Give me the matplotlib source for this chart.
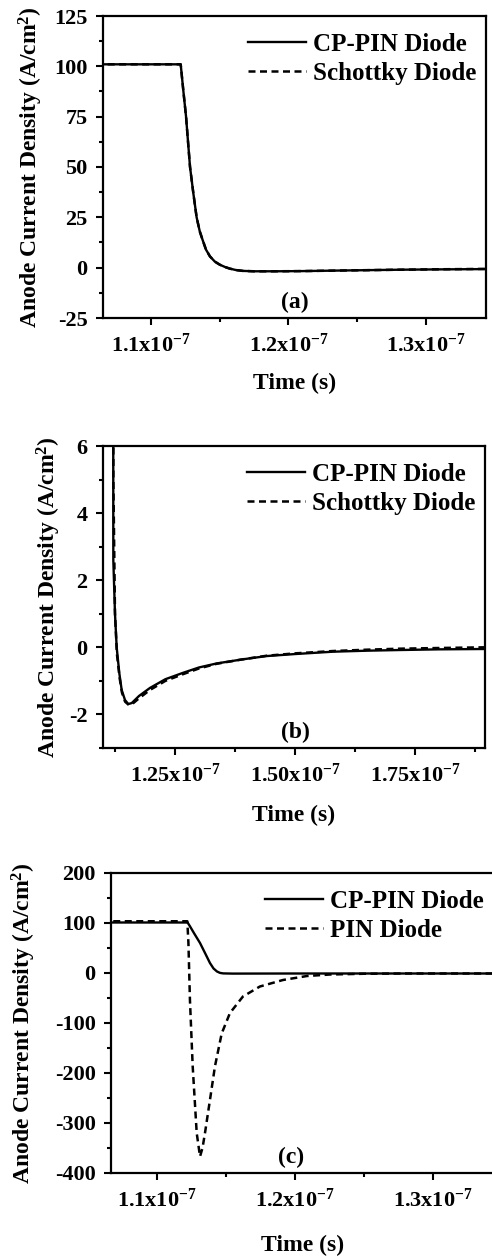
import matplotlib
matplotlib.use("Agg")
import matplotlib.pyplot as plt
import numpy as np

plt.rcParams['font.family'] = ['Liberation Serif', 'DejaVu Serif']
plt.rcParams['font.weight'] = 'bold'
plt.rcParams['axes.labelweight'] = 'bold'
plt.rcParams['mathtext.fontset'] = 'custom'
plt.rcParams['mathtext.rm'] = 'Liberation Serif:bold'
plt.rcParams['mathtext.it'] = 'Liberation Serif:bold:italic'
plt.rcParams['mathtext.bf'] = 'Liberation Serif:bold'
plt.rcParams['axes.unicode_minus'] = False

# ---- data (time in units of 1e-7 s, current in A/cm^2) ----
# (a) CP-PIN vs Schottky, full scale
t_a = [1.060, 1.1216, 1.1235, 1.1255, 1.1270, 1.1284, 1.1308, 1.1332, 1.1355,
       1.1375, 1.1400, 1.1429, 1.1465, 1.1500, 1.1540, 1.1575, 1.1620, 1.1669,
       1.1750, 1.1900, 1.2105, 1.2400, 1.2833, 1.3100, 1.3450]
cp_a = [101, 101, 88, 75, 62, 50, 37, 25, 18, 13.9, 9, 5.6, 3.0, 1.5, 0.3,
        -0.5, -1.2, -1.6, -1.8, -1.8, -1.7, -1.4, -1.0, -0.85, -0.7]
sch_a = [101, 101, 88, 75, 62, 50, 37, 25, 18, 13.9, 9, 5.6, 3.0, 1.5, 0.3,
         -0.5, -1.2, -1.6, -1.8, -1.8, -1.7, -1.4, -1.0, -0.8, -0.6]

# (b) zoom on the reverse recovery
t_b_cp = [1.100, 1.1200, 1.1208, 1.1215, 1.1250, 1.1285, 1.1340, 1.1389, 1.1458,
          1.1527, 1.1600, 1.1750, 1.1979, 1.2300, 1.2667, 1.3000, 1.3369, 1.3900,
          1.4410, 1.5000, 1.5792, 1.6500, 1.7188, 1.8000, 1.8917, 1.9000]
cp_b = [101, 101, 20, 2.6, 1.0, 0.0, -0.77, -1.27, -1.57, -1.69, -1.66, -1.45,
        -1.21, -0.95, -0.76, -0.60, -0.48, -0.36, -0.26, -0.20, -0.13, -0.10,
        -0.08, -0.06, -0.05, -0.05]
t_b_sch = [1.100, 1.1200, 1.1210, 1.1216, 1.1250, 1.1290, 1.1345, 1.1395, 1.1460,
           1.1540, 1.1600, 1.1750, 1.1979, 1.2300, 1.2667, 1.3000, 1.3369, 1.3900,
           1.4410, 1.5000, 1.5792, 1.6500, 1.7188, 1.8000, 1.8917, 1.9000]
sch_b = [101, 101, 20, 5, 1.0, -0.2, -0.9, -1.35, -1.62, -1.72, -1.70, -1.52,
         -1.27, -1.00, -0.80, -0.63, -0.49, -0.36, -0.25, -0.18, -0.11, -0.07,
         -0.04, -0.02, 0.0, 0.0]

# (c) CP-PIN vs conventional PIN
t_c_cp = [1.060, 1.1222, 1.1240, 1.1270, 1.1312, 1.1350, 1.1384, 1.1410, 1.1435,
          1.1457, 1.1480, 1.1550, 1.2000, 1.2500, 1.3000, 1.3450]
cp_c = [101, 101, 93, 79, 60, 39, 20, 9, 3, 0.2, -0.8, -1.2, -1, -1, -1, -1]
t_c_pin = [1.060, 1.1220, 1.1228, 1.1239, 1.1259, 1.1288, 1.1312, 1.1330, 1.1348,
           1.1384, 1.1420, 1.1469, 1.1529, 1.1623, 1.1746, 1.1913, 1.2087, 1.2254,
           1.2500, 1.2800, 1.3100, 1.3450]
pin_c = [103.5, 103.5, 60, -54, -187, -320, -367, -350, -320, -254, -187, -121,
         -80, -47, -27, -14, -6, -3, -1.5, -1, -1, -1]

xt_ac = [1.1e-7, 1.2e-7, 1.3e-7]
xt_ac_labels = ['1.1x10$^{-7}$', '1.2x10$^{-7}$', '1.3x10$^{-7}$']
xt_b = [1.25e-7, 1.50e-7, 1.75e-7]
xt_b_labels = ['1.25x10$^{-7}$', '1.50x10$^{-7}$', '1.75x10$^{-7}$']
yt_a = [-25, 0, 25, 50, 75, 100, 125]
yt_b = [-2, 0, 2, 4, 6]
yt_c = [-400, -300, -200, -100, 0, 100, 200]

ylab = 'Anode Current Density (A/cm$^{2}$)'
dash = (0, (2.8, 1.8))
W, H = 492, 1258

fig = plt.figure(figsize=(W / 100, H / 100), dpi=100)
ax_a = fig.add_axes([103 / W, 1 - 318 / H, 383 / W, 302 / H])
ax_b = fig.add_axes([103 / W, 1 - 748 / H, 382 / W, 302 / H])
ax_c = fig.add_axes([111 / W, 1 - 1173 / H, 382.7 / W, 300 / H])


def style(ax, xmin, xmax, ymin, ymax, xt, xl, yt, xminor, yminor):
    ax.set_xlim(xmin, xmax)
    ax.set_ylim(ymin, ymax)
    ax.set_xticks(xt, xl)
    ax.set_yticks(yt, [str(v) for v in yt])
    ax.set_xticks(xminor, minor=True)
    ax.set_yticks(yminor, minor=True)
    ax.tick_params(which='both', direction='out', top=False, right=False,
                   width=1.5, labelsize=16, pad=6)
    ax.tick_params(which='major', length=5)
    ax.tick_params(which='minor', length=3)
    for s in ax.spines.values():
        s.set_linewidth(1.6)
    ax.set_xlabel('Time (s)', fontsize=17)
    ax.set_ylabel(ylab, fontsize=17)


def legend(ax, x, y, loc='upper right'):
    ax.legend(loc=loc, bbox_to_anchor=(x, y), frameon=False,
              fontsize=18, handlelength=2.3, handletextpad=0.3,
              labelspacing=0.25, borderpad=0, borderaxespad=0)


# (a)
ax_a.plot(np.array(t_a) * 1e-7, cp_a, color='black', lw=1.7, label='CP-PIN Diode')
ax_a.plot(np.array(t_a) * 1e-7, sch_a, color='black', lw=1.8, ls=dash,
          label='Schottky Diode')
style(ax_a, 1.065e-7, 1.344e-7, -25, 125, xt_ac, xt_ac_labels, yt_a,
      [1.15e-7, 1.25e-7], [-12.5, 12.5, 37.5, 62.5, 87.5, 112.5])
legend(ax_a, 0.975, 0.945)
ax_a.text(0.50, 0.05, '(a)', transform=ax_a.transAxes, fontsize=17,
          ha='center', va='center')
ax_a.yaxis.set_label_coords(-0.151, 0.5)
ax_a.xaxis.set_label_coords(0.5, -0.182)

# (b)
ax_b.plot(np.array(t_b_cp) * 1e-7, cp_b, color='black', lw=1.7, label='CP-PIN Diode')
ax_b.plot(np.array(t_b_sch) * 1e-7, sch_b, color='black', lw=1.8, ls=dash,
          label='Schottky Diode')
style(ax_b, 1.10e-7, 1.896e-7, -3, 6, xt_b, xt_b_labels, yt_b,
      [1.125e-7, 1.375e-7, 1.625e-7, 1.875e-7], [-3, -1, 1, 3, 5])
legend(ax_b, 0.975, 0.945)
ax_b.text(0.503, 0.053, '(b)', transform=ax_b.transAxes, fontsize=17,
          ha='center', va='center')
ax_b.yaxis.set_label_coords(-0.104, 0.5)
ax_b.xaxis.set_label_coords(0.5, -0.188)

# (c)
ax_c.plot(np.array(t_c_cp) * 1e-7, cp_c, color='black', lw=1.7, label='CP-PIN Diode')
ax_c.plot(np.array(t_c_pin) * 1e-7, pin_c, color='black', lw=1.8, ls=dash,
          label='PIN Diode')
style(ax_c, 1.0667e-7, 1.344e-7, -400, 200, xt_ac, xt_ac_labels, yt_c,
      [1.15e-7, 1.25e-7], [-350, -250, -150, -50, 50, 150])
legend(ax_c, (265 - 111) / 382.7, 0.945, loc='upper left')
ax_c.text(0.47, 0.053, '(c)', transform=ax_c.transAxes, fontsize=17,
          ha='center', va='center')
ax_c.yaxis.set_label_coords(-0.191, 0.5)
ax_c.xaxis.set_label_coords(0.5, -0.205)

fig.savefig('out.png', dpi=100, facecolor='white')
